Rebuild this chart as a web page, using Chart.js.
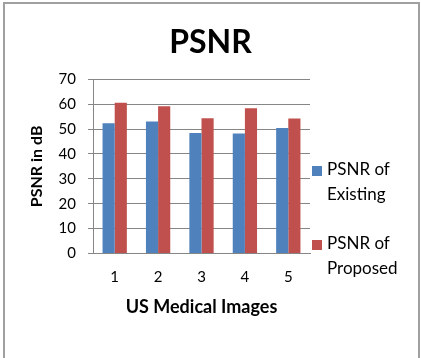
<!DOCTYPE html>
<html>
<head>
<meta charset="utf-8">
<script src="https://cdn.jsdelivr.net/npm/chart.js"></script>
<style>
  html, body { margin: 0; padding: 0; background: #fff; }
  #wrap { position: relative; width: 421px; height: 358px; }
  #frame {
    position: absolute; left: 3px; top: 2px; width: 413px; height: 360px;
    border: 2px solid #a0a0a0; box-sizing: content-box;
  }
  canvas { position: absolute; left: 0; top: 0; }
</style>
</head>
<body>
<div id="wrap">
  <div id="frame"></div>
  <canvas id="psnrChart" width="421" height="358"></canvas>
</div>
<script>
const images = ["1", "2", "3", "4", "5"];
const psnrExisting = [52.4, 53.1, 48.4, 48.2, 50.4];
const psnrProposed = [60.6, 59.2, 54.4, 58.4, 54.3];
const seriesNames = [["PSNR of", "Existing"], ["PSNR of", "Proposed"]];
const yTicks = [0, 10, 20, 30, 40, 50, 60, 70];

const FONT = "Lato, 'Open Sans', sans-serif";
const gridGray = "#868686";

// legend drawn by hand so the two-line labels sit like the original
const sideLegend = {
    id: "sideLegend",
    afterDraw(chart) {
        const ctx = chart.ctx;
        const x = chart.chartArea.right + 2;
        let y = 166;
        ctx.save();
        ctx.font = "17px " + FONT;
        ctx.textBaseline = "middle";
        chart.data.datasets.forEach(ds => {
            ctx.fillStyle = ds.backgroundColor;
            ctx.fillRect(x, y, 10, 10);
            ctx.fillStyle = "#000";
            ds.label.forEach((line, i) => {
                ctx.fillText(line, x + 15, y + 4 + i * 25);
            });
            y += 74;
        });
        ctx.restore();
    }
};

new Chart(document.getElementById("psnrChart"), {
    type: "bar",
    data: {
        labels: images,
        datasets: [
            {
                label: seriesNames[0],
                data: psnrExisting,
                backgroundColor: "#4F81BD"
            },
            {
                label: seriesNames[1],
                data: psnrProposed,
                backgroundColor: "#C0504D"
            }
        ]
    },
    options: {
        responsive: false,
        animation: false,
        layout: {
            padding: { left: 0, right: 0, top: 0, bottom: 40 }
        },
        datasets: {
            bar: { categoryPercentage: 0.56, barPercentage: 1.0 }
        },
        plugins: {
            legend: { display: false },
            tooltip: { enabled: false },
            title: {
                display: true,
                text: "PSNR",
                color: "#000",
                font: { family: FONT, size: 32, weight: "bold" },
                padding: { top: 23, bottom: 18 }
            }
        },
        scales: {
            x: {
                grid: { display: false, drawTicks: false },
                border: { display: true, color: gridGray, width: 1 },
                ticks: {
                    color: "#000",
                    font: { family: FONT, size: 15 },
                    padding: 15
                },
                title: {
                    display: true,
                    text: "US Medical Images",
                    color: "#000",
                    font: { family: FONT, size: 18, weight: "bold" },
                    padding: { top: -5, bottom: 0 }
                }
            },
            y: {
                min: 0,
                max: 70,
                afterBuildTicks(scale) {
                    scale.ticks = yTicks.map(v => ({ value: v }));
                },
                afterFit(scale) {
                    scale.width = 93;
                },
                grid: { color: gridGray, lineWidth: 1, tickLength: 5 },
                border: { display: true, color: gridGray, width: 1 },
                ticks: {
                    color: "#000",
                    font: { family: FONT, size: 15 },
                    padding: 12
                },
                title: {
                    display: true,
                    text: "PSNR in dB",
                    color: "#000",
                    font: { family: FONT, size: 16, weight: "bold" },
                    padding: { top: 27, bottom: 0 }
                }
            },
            // empty right-hand scale that just reserves room for the legend
            side: {
                type: "linear",
                position: "right",
                grid: { display: false, drawTicks: false },
                border: { display: false },
                ticks: { display: false },
                afterFit(scale) {
                    scale.width = 111;
                }
            }
        }
    },
    plugins: [sideLegend]
});
</script>
</body>
</html>
